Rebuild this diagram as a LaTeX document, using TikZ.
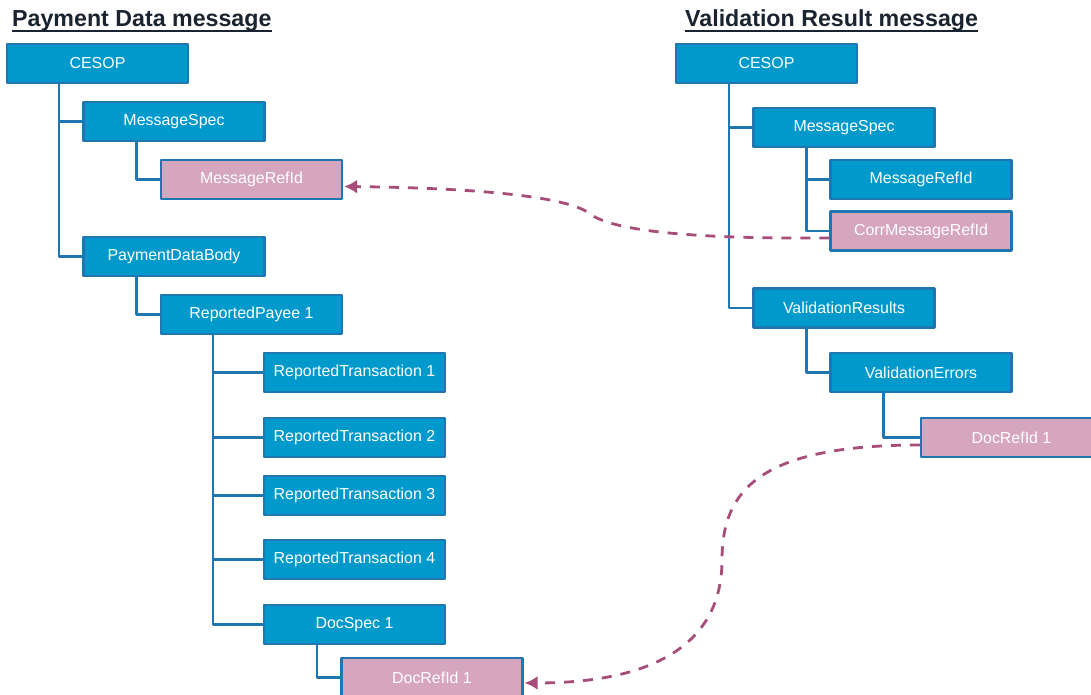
\documentclass[tikz,border=0pt]{standalone}
\usepackage{fontspec}
\setmainfont{Liberation Sans}
\usepackage{xcolor}
\usetikzlibrary{arrows.meta}
\definecolor{boxblue}{RGB}{0,153,204}
\definecolor{edgeblue}{RGB}{31,118,176}
\definecolor{refpink}{RGB}{213,166,190}
\definecolor{linkplum}{RGB}{166,77,121}
\definecolor{titleink}{RGB}{26,36,48}

\begin{document}
\begin{tikzpicture}[>={Latex[length=13bp,width=14bp]},line join=bevel,
    elem/.style={draw=edgeblue,line width=2.2bp,fill=boxblue,text=white,minimum width=181bp,minimum height=39bp,inner sep=0pt,font=\fontsize{16}{18}\selectfont},
    refel/.style={elem,fill=refpink},
    tree/.style={edgeblue,line width=2.2bp},
    link/.style={->,linkplum,line width=2.8bp,dash pattern=on 10bp off 9bp},
    title/.style={inner sep=0pt,text=titleink,font=\fontsize{23.3}{27}\selectfont\bfseries},
    titleline/.style={titleink,line width=2.2bp}]
    \useasboundingbox (0bp,0bp) rectangle (1091bp,695bp);
    \clip (0bp,0bp) rectangle (1091bp,695bp);
    %%
    \node (titleL) at (12bp,668bp) [title,anchor=base west] {Payment Data message};
    \node (titleR) at (685bp,668bp) [title,anchor=base west] {Validation Result message};
    \draw [titleline] ([yshift=-4bp]titleL.base west) -- ([yshift=-4bp]titleL.base east);
    \draw [titleline] ([yshift=-4bp]titleR.base west) -- ([yshift=-4bp]titleR.base east);
    %% payment data
    \node (cesopL) at (97.5bp,631.5bp) [elem] {CESOP};
    \node (specL) at (174bp,573.5bp) [elem] {MessageSpec};
    \node (refL) at (251.5bp,515.5bp) [refel] {MessageRefId};
    \node (bodyL) at (174bp,438.5bp) [elem] {PaymentDataBody};
    \node (payee) at (251.5bp,380.5bp) [elem] {ReportedPayee 1};
    \node (tx1) at (354.5bp,322.5bp) [elem] {ReportedTransaction 1};
    \node (tx2) at (354.5bp,257.5bp) [elem] {ReportedTransaction 2};
    \node (tx3) at (354.5bp,199.5bp) [elem] {ReportedTransaction 3};
    \node (tx4) at (354.5bp,135.5bp) [elem] {ReportedTransaction 4};
    \node (docspec) at (354.5bp,70.5bp) [elem] {DocSpec 1};
    \node (docrefL) at (432bp,17.5bp) [refel] {DocRefId 1};
    \draw [tree] ([xshift=53bp]cesopL.south west) |- (specL.west);
    \draw [tree] ([xshift=53bp]cesopL.south west) |- (bodyL.west);
    \draw [tree] ([xshift=54bp]specL.south west) |- (refL.west);
    \draw [tree] ([xshift=54bp]bodyL.south west) |- (payee.west);
    \draw [tree] ([xshift=53bp]payee.south west) |- (tx1.west);
    \draw [tree] ([xshift=53bp]payee.south west) |- (tx2.west);
    \draw [tree] ([xshift=53bp]payee.south west) |- (tx3.west);
    \draw [tree] ([xshift=53bp]payee.south west) |- (tx4.west);
    \draw [tree] ([xshift=53bp]payee.south west) |- (docspec.west);
    \draw [tree] ([xshift=54bp]docspec.south west) |- (docrefL.west);
    %% validation result
    \node (cesopR) at (766.5bp,631.5bp) [elem] {CESOP};
    \node (specR) at (844bp,567.5bp) [elem] {MessageSpec};
    \node (refR) at (921bp,515.5bp) [elem] {MessageRefId};
    \node (corrR) at (921bp,464bp) [refel] {CorrMessageRefId};
    \node (resR) at (844bp,387bp) [elem] {ValidationResults};
    \node (errR) at (921bp,322.5bp) [elem] {ValidationErrors};
    \node (docrefR) at (1011.5bp,257.5bp) [refel] {DocRefId 1};
    \draw [tree] ([xshift=54bp]cesopR.south west) |- (specR.west);
    \draw [tree] ([xshift=54bp]cesopR.south west) |- (resR.west);
    \draw [tree] ([xshift=54bp]specR.south west) |- (refR.west);
    \draw [tree] ([xshift=54bp]specR.south west) |- (corrR.west);
    \draw [tree] ([xshift=54bp]resR.south west) |- (errR.west);
    \draw [tree] ([xshift=54bp]errR.south west) |- (docrefR.west);
    %% references
    \draw [link] ([yshift=-7bp]corrR.west) .. controls (700bp,456bp) and (615bp,463bp) .. (590bp,481bp) .. controls (570bp,498bp) and (480bp,507bp) .. ([xshift=1bp,yshift=-7bp]refL.east);
    \draw [link] ([yshift=-7.5bp]docrefR.west) .. controls (760bp,250bp) and (722bp,205bp) .. (722bp,135bp) .. controls (722bp,55bp) and (660bp,12bp) .. ([xshift=1bp,yshift=-5.5bp]docrefL.east);
    %
\end{tikzpicture}
\end{document}
